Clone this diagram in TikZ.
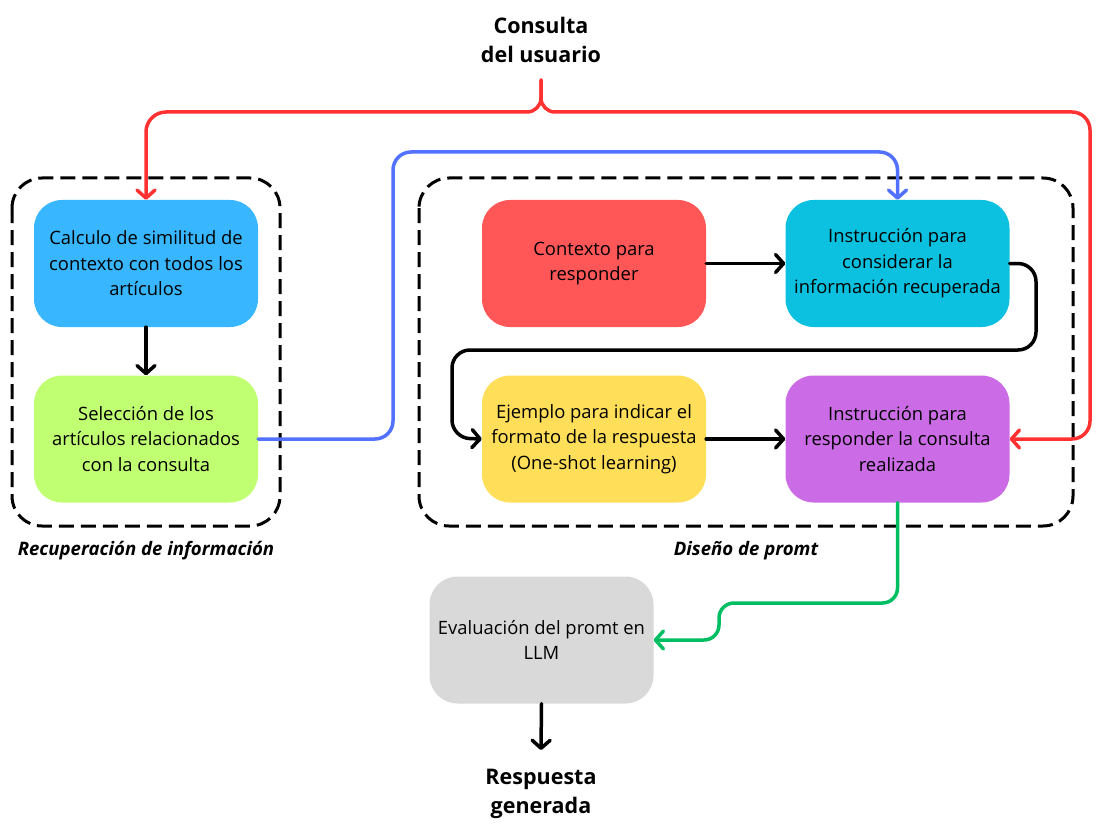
\documentclass[tikz,border=0pt]{standalone}
\usepackage{fontspec}
\setmainfont{Open Sans}
\usetikzlibrary{arrows.meta,calc}
\definecolor{cblue}{HTML}{38B6FF}
\definecolor{cgreen}{HTML}{C1FF72}
\definecolor{cred}{HTML}{FF5757}
\definecolor{ccyan}{HTML}{0CC0DF}
\definecolor{cyellow}{HTML}{FFDE59}
\definecolor{cpurple}{HTML}{CB6CE6}
\definecolor{cgray}{HTML}{D9D9D9}
\definecolor{lred}{HTML}{FF3131}
\definecolor{lblue}{HTML}{5271FF}
\definecolor{lgreen}{HTML}{00BF63}
\tikzset{
  box/.style={rectangle, rounded corners=28pt, minimum width=224pt, minimum height=127pt,
    inner sep=0pt, align=center,
    font=\fontsize{18.4}{25.5}\selectfont},
  dashbox/.style={draw=black, line width=3pt, dash pattern=on 15pt off 7pt, rounded corners=30pt},
  conn/.style={line width=3.5pt, rounded corners=18pt, line cap=round, line join=round,
    -{Straight Barb[length=8pt,width=18pt,line cap=round,line join=round]}},
  title/.style={align=center, font=\fontsize{21.5}{29}\selectfont\bfseries},
  grouplabel/.style={font=\fontsize{18.6}{20}\selectfont\bfseries\itshape}
}
\begin{document}
\begin{tikzpicture}[x=1pt,y=-1pt]
\useasboundingbox (0,0) rectangle (1101,832);
% dashed groups
\draw[dashbox] (12,178) rectangle (280,526);
\draw[dashbox] (419,178) rectangle (1073,526);
\node[grouplabel] (gl1) at (146,551) {Recuperación de información};
\node[grouplabel] (gl2) at (746,551) {Diseño de promt};
% boxes
\node[box, fill=cblue] (calc) at (146,263.5) {Calculo de similitud de\\contexto con todos los\\artículos};
\node[box, fill=cgreen] (sel) at (146,439) {Selección de los\\artículos relacionados\\con la consulta};
\node[box, fill=cred] (ctx) at (594,263.5) {\raisebox{-2pt}{Contexto para}\\\raisebox{-2pt}{responder}};
\node[box, fill=ccyan] (inst) at (897.5,263.5) {Instrucción para\\considerar la\\información recuperada};
\node[box, fill=cyellow] (ej) at (594,439) {Ejemplo para indicar el\\formato de la respuesta\\(One-shot learning)};
\node[box, fill=cpurple] (resp) at (897.5,439) {Instrucción para\\responder la consulta\\realizada};
\node[box, fill=cgray] (eval) at (541.5,640) {Evaluación del promt en\\LLM};
% titles
\node[title] (q) at (541,40) {Consulta\\del usuario};
\node[title] (out) at (541,794) {Respuesta\\generada};
\coordinate (qs) at (541,80);
\coordinate (oe) at (541,750);
% connectors
\draw[conn, draw=lred, rounded corners=14pt] (qs) |- (300,112) [rounded corners=20pt] -| (calc.north);
\draw[conn, draw=lred, rounded corners=14pt] (qs) |- (800,112) [rounded corners=18pt] -| (1090,300) |- (resp.east);
\draw[conn, draw=lblue] (sel.east) -| (393,152) -| (inst.north);
\draw[conn] (calc.south) -- (sel.north);
\draw[conn] (ctx.east) -- (inst.west);
\draw[conn] (inst.east) -| (1036,350) -| (452,438) -- (ej.west);
\draw[conn] (ej.east) -- (resp.west);
\draw[conn, draw=lgreen, rounded corners=15pt] (resp.south) |- (719,603) |- (eval.east);
\draw[conn] (eval.south) -- (oe);
\end{tikzpicture}
\end{document}
